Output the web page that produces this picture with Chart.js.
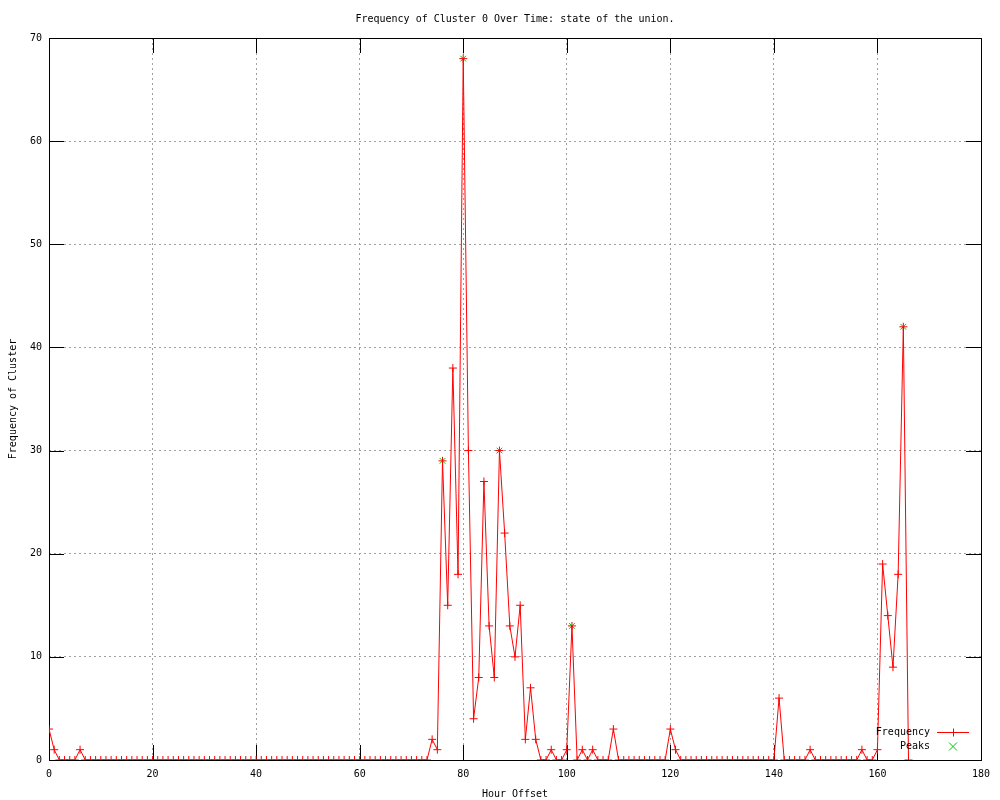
<!DOCTYPE html>
<html>
<head>
<meta charset="utf-8">
<script src="https://cdn.jsdelivr.net/npm/chart.js@4.4.0/dist/chart.umd.min.js"></script>
<style>
    html, body { margin: 0; padding: 0; background: #fff; }
    #wrap { width: 1000px; height: 800px; position: relative; }
</style>
</head>
<body>
<div id="wrap"><canvas id="chart"></canvas></div>
<script>
// --- Data ---
const titleText = 'Frequency of Cluster 0 Over Time: state of the union.';
const xTicks = [0, 20, 40, 60, 80, 100, 120, 140, 160, 180];
const yTicks = [0, 10, 20, 30, 40, 50, 60, 70];

// frequency per hour offset, starting at hour 0
const frequency = [
    3, 1, 0, 0, 0, 0, 1, 0, 0, 0,
    0, 0, 0, 0, 0, 0, 0, 0, 0, 0,
    0, 0, 0, 0, 0, 0, 0, 0, 0, 0,
    0, 0, 0, 0, 0, 0, 0, 0, 0, 0,
    0, 0, 0, 0, 0, 0, 0, 0, 0, 0,
    0, 0, 0, 0, 0, 0, 0, 0, 0, 0,
    0, 0, 0, 0, 0, 0, 0, 0, 0, 0,
    0, 0, 0, 0, 2, 1, 29, 15, 38, 18,
    68, 30, 4, 8, 27, 13, 8, 30, 22, 13,
    10, 15, 2, 7, 2, 0, 0, 1, 0, 0,
    1, 13, 0, 1, 0, 1, 0, 0, 0, 3,
    0, 0, 0, 0, 0, 0, 0, 0, 0, 0,
    3, 1, 0, 0, 0, 0, 0, 0, 0, 0,
    0, 0, 0, 0, 0, 0, 0, 0, 0, 0,
    0, 6, 0, 0, 0, 0, 0, 1, 0, 0,
    0, 0, 0, 0, 0, 0, 0, 1, 0, 0,
    1, 19, 14, 9, 18, 42, 0
];
const peakHours = [76, 80, 87, 101, 165];
const peakValues = [29, 68, 30, 13, 42];

const RED = '#ff0000';
const GREEN = '#00c000';
const FONT = { family: '"DejaVu Sans Mono", monospace', size: 10 };
const CSS_FONT = '10px "DejaVu Sans Mono", monospace';

// --- gnuplot style frame: border box, mirrored inward ticks, title, key ---
const gnuplotFrame = {
    id: 'gnuplotFrame',
    beforeDatasetsDraw(chart) {
        const { ctx, chartArea: a, scales: { x, y } } = chart;
        const TICK = 15;
        ctx.save();
        ctx.strokeStyle = '#000';
        ctx.lineWidth = 1;
        ctx.strokeRect(a.left + 0.5, a.top + 0.5, a.right - a.left, a.bottom - a.top);
        ctx.beginPath();
        xTicks.forEach(v => {
            const px = Math.round(x.getPixelForValue(v)) + 0.5;
            ctx.moveTo(px, a.bottom); ctx.lineTo(px, a.bottom - TICK);
            ctx.moveTo(px, a.top); ctx.lineTo(px, a.top + TICK);
        });
        yTicks.forEach(v => {
            const py = Math.round(y.getPixelForValue(v)) + 0.5;
            ctx.moveTo(a.left, py); ctx.lineTo(a.left + TICK, py);
            ctx.moveTo(a.right, py); ctx.lineTo(a.right - TICK, py);
        });
        ctx.stroke();

        ctx.fillStyle = '#000';
        ctx.font = CSS_FONT;
        ctx.textAlign = 'center';
        ctx.textBaseline = 'middle';
        ctx.fillText(titleText, (a.left + a.right) / 2, 19);
        ctx.restore();
    },
    afterDraw(chart) {
        const { ctx } = chart;
        const textRight = 930, lineStart = 937, lineEnd = 969, markX = 953;
        const row1 = 732.5, row2 = 746.5, r = 4;
        ctx.save();
        ctx.font = CSS_FONT;
        ctx.fillStyle = '#000';
        ctx.textAlign = 'right';
        ctx.textBaseline = 'middle';
        ctx.fillText('Frequency', textRight, row1);
        ctx.fillText('Peaks', textRight, row2);

        ctx.lineWidth = 1;
        ctx.strokeStyle = RED;
        ctx.beginPath();
        ctx.moveTo(lineStart, row1); ctx.lineTo(lineEnd, row1);
        ctx.moveTo(markX + 0.5, row1 - r); ctx.lineTo(markX + 0.5, row1 + r);
        ctx.stroke();

        ctx.strokeStyle = GREEN;
        ctx.beginPath();
        ctx.moveTo(markX - r, row2 - r); ctx.lineTo(markX + r, row2 + r);
        ctx.moveTo(markX - r, row2 + r); ctx.lineTo(markX + r, row2 - r);
        ctx.stroke();
        ctx.restore();
    }
};

const ctx = document.getElementById('chart').getContext('2d');
new Chart(ctx, {
    type: 'line',
    data: {
        datasets: [
            {
                label: 'Frequency',
                data: frequency.map((v, i) => ({ x: i, y: v })),
                borderColor: RED,
                borderWidth: 1,
                pointStyle: 'cross',
                pointRadius: 4,
                pointBorderColor: RED,
                pointBorderWidth: 1,
                tension: 0,
                fill: false
            },
            {
                label: 'Peaks',
                data: peakHours.map((h, i) => ({ x: h, y: peakValues[i] })),
                showLine: false,
                pointStyle: 'crossRot',
                pointRadius: 4,
                pointBorderColor: GREEN,
                pointBorderWidth: 1
            }
        ]
    },
    options: {
        responsive: true,
        maintainAspectRatio: false,
        animation: false,
        layout: { padding: { top: 38, right: 19, left: 0, bottom: 0 } },
        plugins: {
            legend: { display: false },
            tooltip: { enabled: false },
            title: { display: false }
        },
        scales: {
            x: {
                type: 'linear',
                min: 0,
                max: 180,
                afterFit: s => { s.height = 40; },
                ticks: { stepSize: 20, color: '#000', font: FONT, padding: 8, maxRotation: 0 },
                grid: { color: '#a0a0a0', drawTicks: false },
                border: { display: false, dash: [2, 3] },
                title: { display: true, text: 'Hour Offset', color: '#000', font: FONT, padding: { top: 2, bottom: 0 } }
            },
            y: {
                min: 0,
                max: 70,
                afterFit: s => { s.width = 49; },
                ticks: { stepSize: 10, color: '#000', font: FONT, padding: 7 },
                grid: { color: '#a0a0a0', drawTicks: false },
                border: { display: false, dash: [2, 3] },
                title: { display: true, text: 'Frequency of Cluster', color: '#000', font: FONT, padding: { top: 7, bottom: 0 } }
            }
        }
    },
    plugins: [gnuplotFrame]
});
</script>
</body>
</html>
